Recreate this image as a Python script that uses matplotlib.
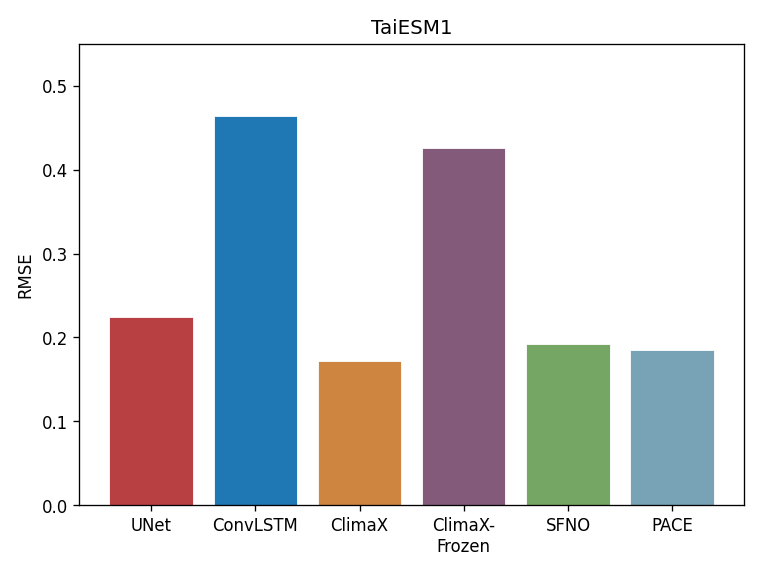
import matplotlib
matplotlib.use("Agg")
import matplotlib.pyplot as plt

# RMSE per model on TaiESM1
models = ["UNet", "ConvLSTM", "ClimaX", "ClimaX-\nFrozen", "SFNO", "PACE"]
rmse = [0.224, 0.464, 0.172, 0.426, 0.192, 0.185]
colors = ["#b94042", "#1f77b4", "#cd853f", "#845a7b", "#76a663", "#78a2b6"]

fig, ax = plt.subplots(figsize=(6.4, 4.8), dpi=119)
ax.bar(models, rmse, color=colors, width=0.8, edgecolor="white", linewidth=0.5)
ax.set_ylim(0, 0.55)
ax.set_ylabel("RMSE")
ax.set_title("TaiESM1")

fig.subplots_adjust(left=0.104, right=0.977, top=0.923, bottom=0.115)
fig.savefig("out.png", dpi=119)
